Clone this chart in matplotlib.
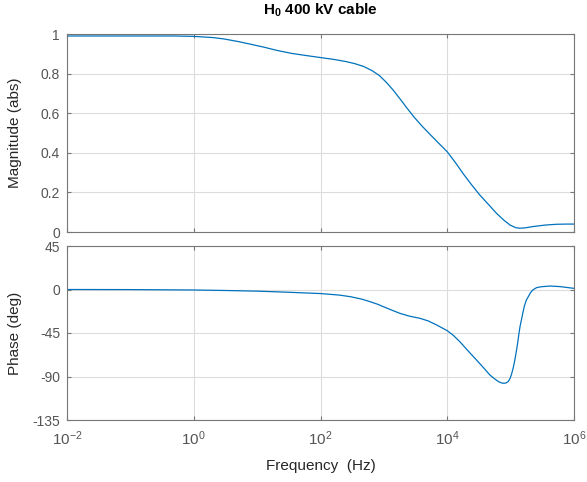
import numpy as np
import matplotlib
matplotlib.use("Agg")
import matplotlib.pyplot as plt

plt.rcParams['font.family'] = ['Liberation Sans', 'DejaVu Sans']
plt.rcParams['mathtext.fontset'] = 'custom'
plt.rcParams['mathtext.rm'] = 'Liberation Sans'
plt.rcParams['mathtext.bf'] = 'Liberation Sans:bold'
plt.rcParams['axes.unicode_minus'] = False
plt.rcParams['font.size'] = 10

# magnitude response
mag_freq = [0.01, 0.1, 0.5, 1, 2, 3, 5, 8, 13, 20, 35, 60, 100, 160, 250, 350, 480,
            650, 850, 1100, 1400, 1800, 2300, 3000, 4000, 5200, 7000, 10000, 13500,
            17700, 24000, 32600, 45000, 60000, 78000, 98000, 120000, 140000,
            170000, 210000, 260000, 350000, 530000, 750000, 1e6]
mag_abs = [0.99, 0.99, 0.99, 0.988, 0.982, 0.975, 0.962, 0.948, 0.933, 0.918, 0.902,
           0.891, 0.881, 0.872, 0.861, 0.85, 0.836, 0.815, 0.79, 0.755, 0.717, 0.672,
           0.627, 0.58, 0.535, 0.497, 0.455, 0.405, 0.35, 0.296, 0.24, 0.187, 0.138,
           0.094, 0.06, 0.035, 0.022, 0.019, 0.021, 0.026, 0.03, 0.035, 0.039, 0.04,
           0.04]

# phase response
ph_freq = [0.01, 0.1, 1, 3, 10, 30, 100, 200, 300, 450, 600, 800, 1000, 1350, 1780,
           2500, 3700, 5000, 6800, 10000, 12500, 15800, 21000, 29000, 38000, 47000,
           56000, 65000, 73000, 79000, 86000, 92000, 98000, 103000, 109000, 115000,
           120000, 124000, 130000, 135000, 141000, 148000, 156000, 165000, 177000,
           190000, 205000, 220000, 240000, 257000, 300000, 417000, 600000, 1e6]
ph_deg = [0, -0.1, -0.5, -1, -1.7, -2.8, -4.2, -5.8, -7.5, -10, -12.5, -15.3, -18,
          -21.5, -24.6, -27.5, -29.8, -32.5, -36.7, -42.6, -47.5, -54, -63, -73,
          -81.5, -88.4, -92.5, -95.5, -96.8, -97, -96.5, -95, -92, -88, -82, -75,
          -68, -62.6, -54, -46, -38, -31.5, -24, -17, -11, -7.4, -3.5, -1, 0.8, 1.9,
          2.8, 3.6, 3, 1.2]

mag_ticks = [0, 0.2, 0.4, 0.6, 0.8, 1]
mag_ticklabels = ['0', '0.2', '0.4', '0.6', '0.8', '1']
ph_ticks = [-135, -90, -45, 0, 45]

line_col = '#0072BD'
ax_col = '#777777'
txt_col = '#262626'
tick_col = '#555555'

fig = plt.figure(figsize=(5.87, 4.82), dpi=100)
ax1 = fig.add_axes([67/587, 1-232/482, (574-67)/587, (232-34)/482])
ax2 = fig.add_axes([67/587, 1-420/482, (574-67)/587, (420-246)/482])

for ax in (ax1, ax2):
    ax.set_xscale('log')
    ax.set_xlim(1e-2, 1e6)
    ax.set_xticks([1e-2, 1, 1e2, 1e4, 1e6])
    ax.minorticks_off()
    ax.grid(True, color='#dcdcdc', linewidth=0.8)
    ax.set_axisbelow(True)
    ax.tick_params(direction='in', top=True, right=True, length=3,
                   color=ax_col, labelcolor=tick_col, labelsize=10)
    ax.tick_params(axis='y', pad=5)
    ax.tick_params(axis='x', pad=7, labelsize=11)
    for s in ax.spines.values():
        s.set_color(ax_col)
        s.set_linewidth(0.8)
    ax.yaxis.set_label_coords(-0.088, 0.5)

ax1.plot(mag_freq, mag_abs, color=line_col, linewidth=0.9)
ax1.set_ylim(0, 1)
ax1.set_yticks(mag_ticks)
ax1.set_yticklabels(mag_ticklabels)
ax1.tick_params(labelbottom=False)
ax1.set_ylabel('Magnitude (abs)', color=txt_col, fontsize=11)
ax1.set_title(r'$\mathbf{H_0}$ 400 kV cable', fontweight='bold', fontsize=11,
              color='black', pad=14)

ax2.plot(ph_freq, ph_deg, color=line_col, linewidth=0.9)
ax2.set_ylim(-135, 45)
ax2.set_yticks(ph_ticks)
ax2.set_ylabel('Phase (deg)', color=txt_col, fontsize=11)
ax2.set_xlabel('Frequency  (Hz)', color=txt_col, fontsize=11, labelpad=8)

fig.savefig('out.png', dpi=100)
